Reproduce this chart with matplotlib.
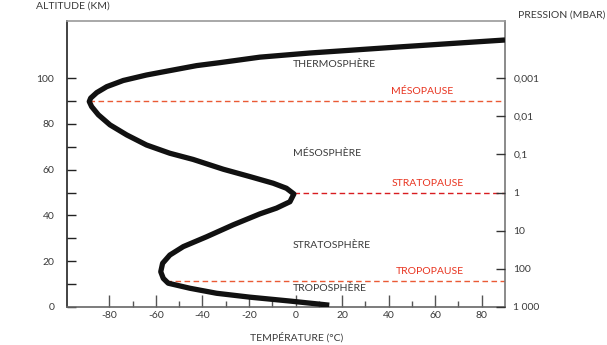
import matplotlib
matplotlib.use("Agg")
import matplotlib.pyplot as plt
import numpy as np

plt.rcParams['font.family'] = ['Lato', 'DejaVu Sans']

# Temperature profile (°C) vs altitude (km)
temperature = [14.5, -2.4, -19.6, -33.9, -45.4, -54.7, -56.8, -57.9, -57.1, -54.0,
               -48.2, -38.2, -26.8, -15.3, -8.2, -2.4, -0.7, -3.9, -9.6, -19.6,
               -31.0, -44.0, -54.0, -64.0, -72.5, -79.7, -84.7, -87.6, -88.6, -88.0,
               -85.4, -81.1, -74.0, -64.0, -52.5, -42.5, -32.5, -15.3, 6.0, 45.0, 90.0]
altitude = [0.8, 2.6, 4.3, 6.0, 8.2, 10.4, 12.5, 15.4, 19.1, 22.7,
            26.4, 30.7, 35.9, 40.7, 43.2, 46.0, 49.4, 51.9, 54.1, 57.0,
            60.2, 64.5, 67.2, 70.8, 75.2, 79.6, 84.0, 87.6, 89.8, 91.3,
            93.7, 96.3, 99.0, 101.4, 103.6, 105.5, 106.8, 109.2, 111.0, 113.7, 116.7]

# Boundaries (pauses)
pause_names = ['TROPOPAUSE', 'STRATOPAUSE', 'MÉSOPAUSE']
pause_alt = [11.4, 50, 90]
pause_temp = [-55.6, -0.7, -88.6]
pause_colors = ['#ea5a35', '#d81c20', '#ea5a35']
pause_label_xy = [(43, 15.7), (41.2, 53.8), (41.2, 94.4)]

# Layers
layer_names = ['TROPOSPHÈRE', 'STRATOSPHÈRE', 'MÉSOSPHÈRE', 'THERMOSPHÈRE']
layer_label_xy = [(-1.2, 8.2), (-1.2, 26.7), (-1.2, 67.3), (-1.2, 105.8)]

# Pressure scale (mbar) on the right
pressure = [0.001, 0.01, 0.1, 1, 10, 100, 1000]
pressure_labels = ['0,001', '0,01', '0,1', '1', '10', '100', '1 000']
pressure_alt = [100, 83.33, 66.67, 50, 33.33, 16.67, 0]

xticks_major = [-80, -60, -40, -20, 0, 20, 40, 60, 80]
xticks_minor = [-70, -50, -30, -10, 10, 30, 50, 70]
yticks = [0, 10, 20, 30, 40, 50, 60, 70, 80, 90, 100]
ytick_labels = ['0', '', '20', '', '40', '', '60', '', '80', '', '100']

TXT = '#3a3a3a'
RED = '#e8331f'

fig = plt.figure(figsize=(6.07, 3.45), dpi=100)
ax = fig.add_axes([66.7/607, 1-307/345, (505-66.7)/607, (307-21)/345])
ax.set_xlim(-98.3, 90)
ax.set_ylim(0, 125)

for a, t0, c in zip(pause_alt, pause_temp, pause_colors):
    ax.hlines(a, t0, 90, colors=c, linestyles=(0, (4, 2.5)), linewidth=1.0, zorder=2)

ax.plot(temperature, altitude, color='#111111', linewidth=3.8,
        solid_capstyle='butt', solid_joinstyle='round', zorder=3)

for name, (x, y) in zip(pause_names, pause_label_xy):
    ax.text(x, y, name, color=RED, fontsize=7.5, ha='left', va='center')
for name, (x, y) in zip(layer_names, layer_label_xy):
    ax.text(x, y, name, color=TXT, fontsize=7.5, ha='left', va='center')

ax.set_xticks(xticks_major)
ax.set_xticklabels([str(v) for v in xticks_major])
ax.set_xticks(xticks_minor, minor=True)
ax.tick_params(axis='x', which='major', direction='in', length=9, width=1.0,
               color='#555555', labelsize=7.5, labelcolor=TXT, pad=3)
ax.tick_params(axis='x', which='minor', direction='in', length=4, width=1.0,
               color='#555555')
ax.set_yticks(yticks)
ax.set_yticklabels(ytick_labels)
ax.tick_params(axis='y', which='major', direction='in', length=6.5, width=1.0,
               color='#222222', labelsize=7.5, labelcolor=TXT, pad=9)

ax.spines['left'].set_color('#222222')
ax.spines['left'].set_linewidth(1.2)
ax.spines['bottom'].set_color('#666666')
ax.spines['bottom'].set_linewidth(1.2)
ax.spines['top'].set_color('#999999')
ax.spines['top'].set_linewidth(1.2)
ax.spines['right'].set_color('#777777')
ax.spines['right'].set_linewidth(1.2)

ax2 = ax.twinx()
ax2.set_ylim(0, 125)
ax2.set_yticks(pressure_alt)
ax2.set_yticklabels(pressure_labels)
ax2.tick_params(axis='y', direction='in', length=6.5, width=1.0, color='#333333',
                labelsize=7.5, labelcolor=TXT, pad=6)
for s in ax2.spines.values():
    s.set_visible(False)

fig.text(36/607, 1-6/345, 'ALTITUDE (KM)', color=TXT, fontsize=7.5, ha='left', va='center')
fig.text(518/607, 1-15/345, 'PRESSION (MBAR)', color=TXT, fontsize=7.5, ha='left', va='center')
fig.text(297/607, 1-337/345, 'TEMPÉRATURE (°C)', color=TXT, fontsize=7.5, ha='center', va='center')

fig.savefig('out.png', dpi=100)
